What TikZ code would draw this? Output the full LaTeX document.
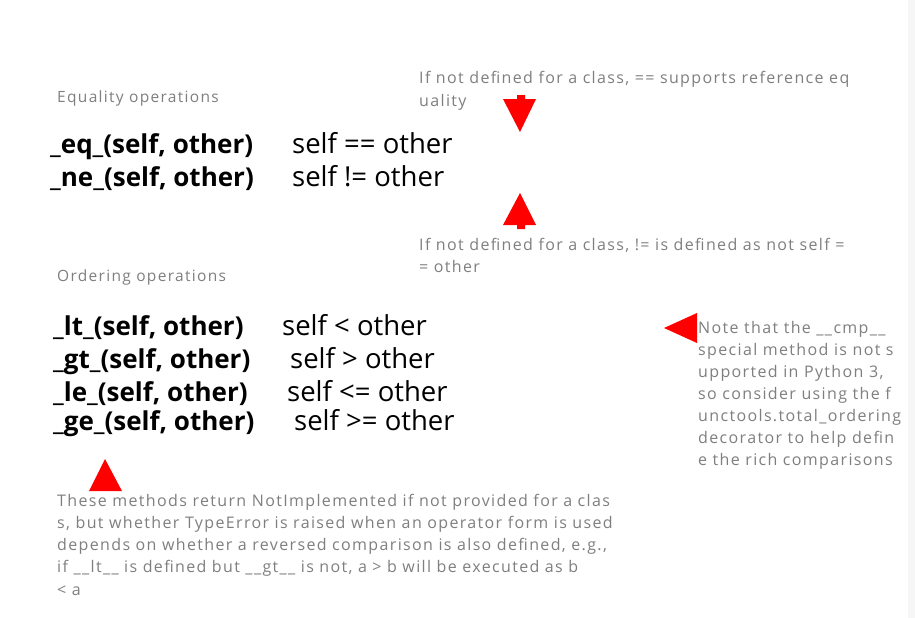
\documentclass[tikz,border=0pt]{standalone}
\usepackage{fontspec}
\setmainfont{Open Sans}
\newfontfamily\notefont[LetterSpace=8.5]{Open Sans}
\definecolor{notegray}{HTML}{7F7F7F}
\definecolor{arrowred}{HTML}{FF0000}
\definecolor{stripgray}{HTML}{F6F6F6}
\tikzset{
  note/.style={anchor=base west, inner sep=0pt, text=notegray, font=\notefont\fontsize{16}{22}\selectfont},
  head/.style={anchor=base west, inner sep=0pt, text=notegray, font=\notefont\fontsize{15.5}{22}\selectfont},
  meth/.style={anchor=base west, inner sep=0pt, text=black, font=\bfseries\fontsize{26}{30}\selectfont},
  expr/.style={anchor=base west, inner sep=0pt, text=black, font=\fontsize{27.5}{30}\selectfont},
  redmark/.style={fill=arrowred, draw=none}
}
\begin{document}
\begin{tikzpicture}[x=1pt,y=-1pt]
\useasboundingbox (0,0) rectangle (915,618);
\fill[white] (0,0) rectangle (915,618);
\fill[stripgray] (908,0) rectangle (915,618);

% Equality section
\node[head] (eqhead) at (57,102) {Equality operations};
\node[meth] (eqm) at (50,153) {\_eq\_(self, other)};
\node[expr] (eqe) at (292,153) {self == other};
\node[meth] (nem) at (50,186) {\_ne\_(self, other)};
\node[expr] (nee) at (292,186) {self != other};

\node[note] (eqn1) at (419,84) {If not defined for a class, == supports reference eq};
\node[note] (eqn2) at (419,106) {uality};
\node[note] (nen1) at (419,250) {If not defined for a class, != is defined as not self =};
\node[note] (nen2) at (419,272) {= other};

% Ordering section
\node[head] (ordhead) at (57,281) {Ordering operations};
\node[meth] (ltm) at (53,335) {\_lt\_(self, other)};
\node[expr] (lte) at (282,335) {self < other};
\node[meth] (gtm) at (53,368) {\_gt\_(self, other)};
\node[expr] (gte) at (290,368) {self > other};
\node[meth] (lem) at (53,401) {\_le\_(self, other)};
\node[expr] (lee) at (287,401) {self <= other};
\node[meth] (gem) at (53,430) {\_ge\_(self, other)};
\node[expr] (gee) at (294,430) {self >= other};

% right note
\node[note] (r1) at (698,333) {Note that the \_\_cmp\_\_};
\node[note] (r2) at (698,355) {special method is not s};
\node[note] (r3) at (698,377) {upported in Python 3,};
\node[note] (r4) at (698,399) {so consider using the f};
\node[note] (r5) at (698,421) {unctools.total\_ordering};
\node[note] (r6) at (698,443) {decorator to help defin};
\node[note] (r7) at (698,465) {e the rich comparisons};

% bottom note
\node[note] (b1) at (57,506) {These methods return NotImplemented if not provided for a clas};
\node[note] (b2) at (57,528) {s, but whether TypeError is raised when an operator form is used};
\node[note] (b3) at (57,550) {depends on whether a reversed comparison is also defined, e.g.,};
\node[note] (b4) at (57,572) {if \_\_lt\_\_ is defined but \_\_gt\_\_ is not, a > b will be executed as b};
\node[note] (b5) at (57,595) {< a};

% red markers
\fill[redmark] (517,95) -- (525,95) -- (525,99) -- (536,99) -- (520,132) -- (503,99) -- (517,99) -- cycle;
\fill[redmark] (517,229) -- (525,229) -- (525,225) -- (536,225) -- (520,193) -- (503,225) -- (517,225) -- cycle;
\fill[redmark] (664,328) -- (697,313) -- (697,343) -- cycle;
\fill[redmark] (105,459) -- (122,491) -- (89,491) -- cycle;
\end{tikzpicture}
\end{document}
